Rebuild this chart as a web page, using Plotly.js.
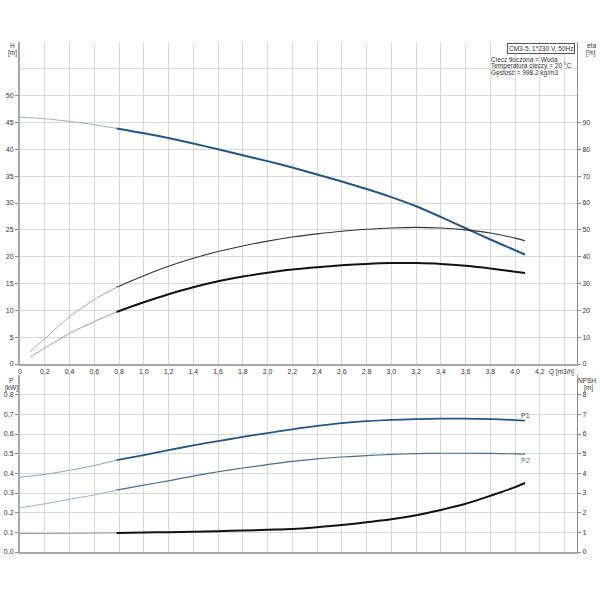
<!DOCTYPE html>
<html>
<head>
<meta charset="utf-8">
<script src="https://cdn.plot.ly/plotly-3.0.1.min.js"></script>
<style>
  body { margin: 0; background: #fff; }
  #pump_plot { width: 600px; height: 600px; }
</style>
</head>
<body>
<div id="pump_plot"></div>
<script>
// flow points (m3/h), curves switch from thin to thick at Q = 0.78
q_points = [0, 0.2, 0.4, 0.6, 0.78, 1.0, 1.2, 1.4, 1.6, 1.8, 2.0, 2.2, 2.4, 2.6, 2.8, 3.0, 3.2, 3.4, 3.6, 3.8, 4.0, 4.08];

head_m = [46.0, 45.7, 45.2, 44.6, 43.9, 43.0, 42.1, 41.1, 40.0, 38.9, 37.8, 36.6, 35.3, 34.0, 32.6, 31.1, 29.4, 27.4, 25.3, 23.2, 21.2, 20.4];

p1_kw = [0.380, 0.395, 0.415, 0.440, 0.467, 0.493, 0.518, 0.542, 0.564, 0.585, 0.605, 0.624, 0.641, 0.655, 0.665, 0.672, 0.676, 0.678, 0.678, 0.676, 0.671, 0.668];

p2_kw = [0.225, 0.245, 0.268, 0.290, 0.315, 0.340, 0.362, 0.386, 0.408, 0.427, 0.444, 0.461, 0.474, 0.483, 0.490, 0.496, 0.500, 0.502, 0.502, 0.501, 0.499, 0.498];

npsh_m = [0.94, 0.94, 0.95, 0.96, 0.97, 0.99, 1.01, 1.03, 1.06, 1.09, 1.13, 1.17, 1.26, 1.37, 1.51, 1.66, 1.87, 2.14, 2.45, 2.86, 3.30, 3.51];

// efficiency curves start a bit after zero flow
q_eta = [0.08, 0.2, 0.4, 0.6, 0.78, 1.0, 1.2, 1.4, 1.6, 1.8, 2.0, 2.2, 2.4, 2.6, 2.8, 3.0, 3.2, 3.4, 3.6, 3.8, 4.0, 4.08];

eta_pump = [4.6, 9.4, 17.6, 24.0, 28.6, 32.9, 36.4, 39.4, 41.9, 44.0, 45.8, 47.3, 48.5, 49.5, 50.2, 50.7, 50.9, 50.7, 50.0, 48.8, 46.9, 45.9];

eta_total = [2.6, 5.9, 11.4, 15.8, 19.4, 23.0, 26.0, 28.6, 30.8, 32.6, 34.0, 35.2, 36.1, 36.8, 37.3, 37.6, 37.6, 37.3, 36.6, 35.6, 34.4, 33.9];

x_ticks = [0, 0.2, 0.4, 0.6, 0.8, 1.0, 1.2, 1.4, 1.6, 1.8, 2.0, 2.2, 2.4, 2.6, 2.8, 3.0, 3.2, 3.4, 3.6, 3.8, 4.0, 4.2, 4.4];
x_labels = ["0", "0,2", "0,4", "0,6", "0,8", "1,0", "1,2", "1,4", "1,6", "1,8", "2,0", "2,2", "2,4", "2,6", "2,8", "3,0", "3,2", "3,4", "3,6", "3,8", "4,0", "4,2", ""];

h_ticks = [0, 5, 10, 15, 20, 25, 30, 35, 40, 45, 50];
eta_ticks = [0, 10, 20, 30, 40, 50, 60, 70, 80, 90];
p_ticks = [0, 0.1, 0.2, 0.3, 0.4, 0.5, 0.6, 0.7, 0.8];
p_labels = ["0.0", "0.1", "0.2", "0.3", "0.4", "0.5", "0.6", "0.7", "0.8"];
npsh_ticks = [0, 1, 2, 3, 4, 5, 6, 7, 8];

var SPLIT = 4; // index of Q = 0.78

function thin_part(arr) { return arr.slice(0, SPLIT + 1); }
function thick_part(arr) { return arr.slice(SPLIT); }

function line_trace(x, y, xa, ya, color, width) {
    return {
        type: "scatter",
        mode: "lines",
        x: x,
        y: y,
        xaxis: xa,
        yaxis: ya,
        line: {color: color, width: width, shape: "spline", smoothing: 0.8},
        hoverinfo: "skip",
        showlegend: false,
    };
}

var data = [
    // efficiency (right axis of top plot)
    line_trace(thin_part(q_eta), thin_part(eta_pump), "x", "y2", "#a8a8a8", 1),
    line_trace(thick_part(q_eta), thick_part(eta_pump), "x", "y2", "#333333", 1.1),
    line_trace(thin_part(q_eta), thin_part(eta_total), "x", "y2", "#a0a0a0", 1),
    line_trace(thick_part(q_eta), thick_part(eta_total), "x", "y2", "#111111", 2),
    // head
    line_trace(thin_part(q_points), thin_part(head_m), "x", "y", "#98aec6", 1),
    line_trace(thick_part(q_points), thick_part(head_m), "x", "y", "#23578a", 2),
    // power
    line_trace(thin_part(q_points), thin_part(p1_kw), "x2", "y3", "#8aa2bc", 1),
    line_trace(thick_part(q_points), thick_part(p1_kw), "x2", "y3", "#23578a", 1.8),
    line_trace(thin_part(q_points), thin_part(p2_kw), "x2", "y3", "#9db0c6", 1),
    line_trace(thick_part(q_points), thick_part(p2_kw), "x2", "y3", "#3f6f9e", 1.2),
    // NPSH
    line_trace(thin_part(q_points), thin_part(npsh_m), "x2", "y4", "#9a9a9a", 1),
    line_trace(thick_part(q_points), thick_part(npsh_m), "x2", "y4", "#111111", 2),
];

var FONT = "Liberation Sans, Arial, sans-serif";
var tick_font = {family: FONT, size: 7, color: "#333"};
var grid = "#d8d8d8";

function x_axis(anchor, labels) {
    return {
        anchor: anchor,
        range: [0, 4.5],
        tickvals: x_ticks,
        ticktext: labels ? x_labels : x_ticks.map(function () { return ""; }),
        showticklabels: labels,
        ticks: "",
        showgrid: true,
        gridcolor: grid,
        gridwidth: 1,
        zeroline: false,
        showline: true,
        linecolor: "#a8a8a8",
        linewidth: 2,
        tickfont: tick_font,
        fixedrange: true,
    };
}

function left_axis(domain, rng, vals, text, minor_step) {
    return {
        domain: domain,
        range: rng,
        tickvals: vals,
        ticktext: text,
        ticks: "outside",
        ticklen: 3,
        tickcolor: "#888",
        showgrid: true,
        gridcolor: grid,
        minor: {dtick: minor_step, showgrid: true, gridcolor: grid, ticks: ""},
        zeroline: false,
        showline: true,
        linecolor: "#a8a8a8",
        linewidth: 2,
        tickfont: tick_font,
        fixedrange: true,
    };
}

function right_axis(over, anchor, rng, vals) {
    return {
        overlaying: over,
        anchor: anchor,
        side: "right",
        range: rng,
        tickvals: vals,
        ticks: "outside",
        ticklen: 3,
        tickcolor: "#888",
        showgrid: false,
        zeroline: false,
        showline: true,
        linecolor: "#8c8c8c",
        linewidth: 1,
        tickfont: tick_font,
        fixedrange: true,
    };
}

// pixel helpers for paper-positioned labels (plot area 20..577 x 42..552)
function px_x(px) { return (px - 20) / 557; }
function px_y(py) { return (552 - py) / 510; }

var small = {family: FONT, size: 6.5, color: "#333"};

function note(text, px, py, xanchor, extra) {
    var a = {
        text: text,
        xref: "paper",
        yref: "paper",
        x: px_x(px),
        y: px_y(py),
        xanchor: xanchor,
        yanchor: "middle",
        showarrow: false,
        font: small,
    };
    for (var k in extra) { a[k] = extra[k]; }
    return a;
}

var layout = {
    width: 600,
    height: 600,
    margin: {l: 20, r: 23, t: 42, b: 48},
    paper_bgcolor: "#fff",
    plot_bgcolor: "#fff",
    showlegend: false,
    xaxis: x_axis("y", true),
    yaxis: left_axis([px_y(364), 1], [0, 60], h_ticks, h_ticks.map(String), 5),
    yaxis2: right_axis("y", "x", [0, 120], eta_ticks),
    xaxis2: x_axis("y3", false),
    yaxis3: left_axis([0, px_y(375)], [0, 0.9], p_ticks, p_labels, 0.1),
    yaxis4: right_axis("y3", "x2", [0, 9], npsh_ticks),
    annotations: [
        note("H", 12, 45.5, "center"),
        note("[m]", 12, 53, "center"),
        note("eta", 591, 45.5, "center"),
        note("[%]", 591, 53, "center"),
        note("P", 11, 380.5, "center"),
        note("[kW]", 11, 387.5, "center"),
        note("NPSH", 587, 380.5, "center"),
        note("[m]", 588, 387.5, "center"),
        note("Q [m3/h]", 547, 372, "left"),
        note("CM3-5, 1*230 V, 50Hz", 575, 48.5, "right",
             {bordercolor: "#555", borderwidth: 1, borderpad: 1, bgcolor: "#fff"}),
        note("Ciecz tłoczona = Woda", 489, 59.5, "left"),
        note("Temperatura cieczy = 20 °C", 489, 66, "left"),
        note("Gęstość = 998.2 kg/m3", 489, 72.5, "left"),
        {text: "P1", x: q_points[q_points.length - 1], y: p1_kw[p1_kw.length - 1], xref: "x2", yref: "y3",
         xanchor: "center", yanchor: "bottom", yshift: 0, showarrow: false,
         font: {family: FONT, size: 7, color: "#23578a"}},
        {text: "P2", x: q_points[q_points.length - 1], y: p2_kw[p2_kw.length - 1], xref: "x2", yref: "y3",
         xanchor: "center", yanchor: "top", yshift: -1, showarrow: false,
         font: {family: FONT, size: 7, color: "#3f6f9e"}},
    ],
};

Plotly.newPlot("pump_plot", data, layout, {staticPlot: true, displayModeBar: false});
</script>
</body>
</html>
